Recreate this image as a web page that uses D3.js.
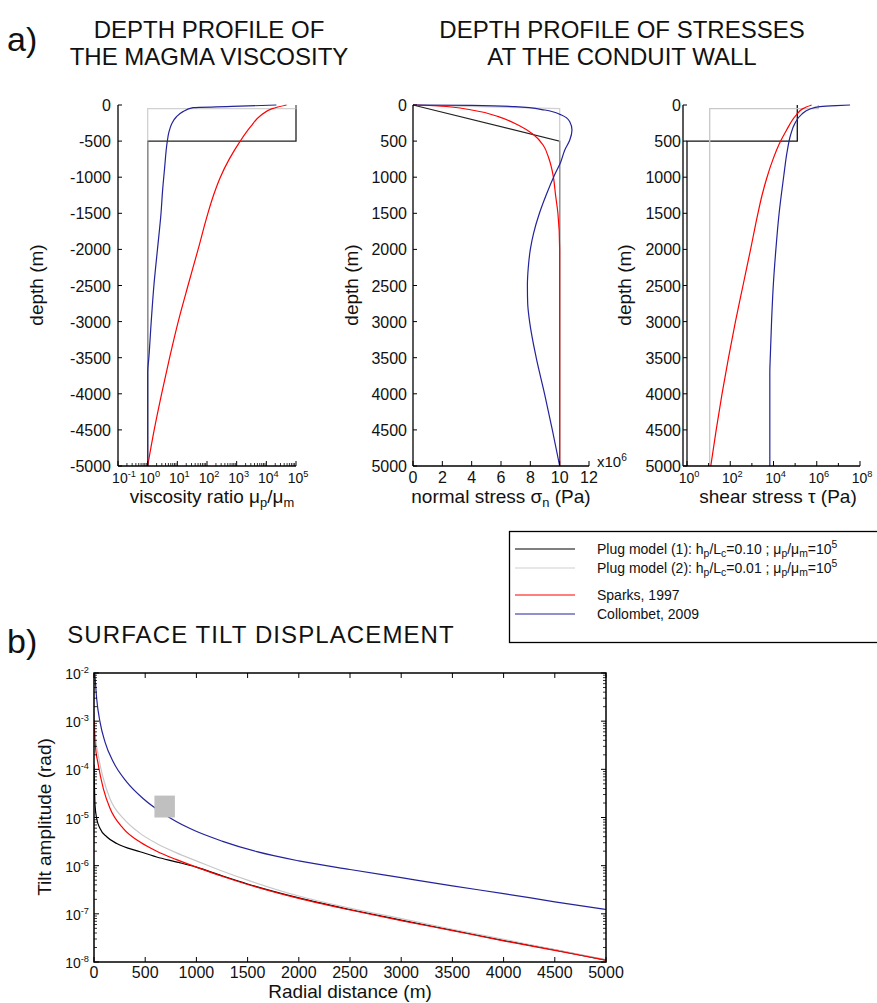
<!DOCTYPE html>
<html><head><meta charset="utf-8">
<script src="https://cdn.jsdelivr.net/npm/d3@7"></script>
<style>
body{margin:0;background:#fff;}
text{font-family:"Liberation Sans",Arial,sans-serif;fill:#111;}
</style></head><body>
<script>
// ---------------- DATA ----------------
// a) viscosity ratio vs depth (m, negative downward); values given as log10 exponents
const viscDepthSparks = [0,-50,-150,-300,-500,-750,-1000,-1250,-1500,-2000,-2500,-3000,-3500,-4000,-4500,-5000];
const viscSparksExp   = [4.68,4.20,3.80,3.47,3.12,2.75,2.45,2.22,2.03,1.70,1.36,1.03,0.74,0.47,0.22,0];
const viscDepthColl   = [0,-20,-37,-92,-162,-254,-369,-508,-877,-1200,-1500,-2000,-2500,-3000,-3500,-3700,-5000];
const viscCollExp     = [4.34,2.85,1.53,1.19,0.97,0.82,0.72,0.66,0.57,0.50,0.45,0.33,0.21,0.12,0.04,0,0];
const viscDepthPlug1  = [-5000,-500,-500,0];
const viscPlug1Exp    = [0,0,5,5];
const viscDepthPlug2  = [-5000,-50,-50,0];
const viscPlug2Exp    = [0,0,5,5];
const viscTicksY      = [0,-500,-1000,-1500,-2000,-2500,-3000,-3500,-4000,-4500,-5000];
const viscDecades     = [-1,0,1,2,3,4,5];

// normal stress (x10^6 Pa) vs depth (m)
const normDepthSparks = [0,14,69,162,277,406,554,738,970,1247,1500,2000,5000];
const normSparks      = [0,1.74,4.0,5.82,7.17,8.19,8.87,9.26,9.55,9.72,9.88,10,10];
const normDepthColl   = [0,4,23,69,139,231,346,485,623,785,970,1247,1500,1777,2000,2250,2500,2750,3000,3500,4000,4500,5000];
const normColl        = [0,4.0,6.95,8.99,10.12,10.69,10.84,10.69,10.35,10.08,9.65,9.08,8.62,8.22,8.00,7.86,7.80,7.82,7.95,8.40,8.97,9.50,10.0];
const normDepthPlug1  = [0,500,5000];
const normPlug1       = [0,10,10];
const normDepthPlug2  = [0,50,5000];
const normPlug2       = [0,10,10];
const normTicksX      = [0,2,4,6,8,10,12];
const depthTicks      = [0,500,1000,1500,2000,2500,3000,3500,4000,4500,5000];

// shear stress (Pa, log10 exponents) vs depth (m)
const shearDepthSparks = [0,50,150,350,500,750,1000,1250,1500,2000,2500,3000,3500,4000,4500,5000];
const shearSparksExp   = [5.76,5.36,5.02,4.60,4.33,3.98,3.70,3.47,3.28,2.94,2.59,2.24,1.92,1.62,1.35,1.10];
const shearDepthColl   = [0,8,23,55,130,254,415,647,970,1247,1500,2000,2500,3000,3500,3700,5000];
const shearCollExp     = [7.54,6.9,6.15,5.69,5.30,4.99,4.79,4.63,4.48,4.36,4.26,4.11,3.99,3.91,3.85,3.83,3.83];
const shearDepthPlug1  = [5000,500,500,0];
const shearPlug1Exp    = [0,0,5.1,5.1];
const shearDepthPlug2  = [5000,50,50,0];
const shearPlug2Exp    = [1.05,1.05,6.07,6.07];
const shearDecades     = [0,1,2,3,4,5,6,7,8];

// b) surface tilt (log10 rad) vs radial distance (m)
const tiltRBlack = [0,10,26,59,124,222,450,612,800,1000,1250,1500,2000,2500,3000,3500,4000,4500,5000];
const tiltBlack  = [-3.9,-4.74,-5.02,-5.23,-5.40,-5.54,-5.71,-5.82,-5.92,-6.03,-6.21,-6.38,-6.67,-6.91,-7.13,-7.34,-7.55,-7.75,-7.96];
const tiltRGray  = [0,10,42,91,156,287,450,612,800,1000,1250,1500,2000,2500,3000,3500,4000,4500,5000];
const tiltGray   = [-2.81,-3.22,-3.71,-4.19,-4.61,-5.02,-5.33,-5.54,-5.73,-5.90,-6.11,-6.30,-6.63,-6.88,-7.10,-7.32,-7.53,-7.74,-7.95];
const tiltRRed   = [0,10,42,91,156,287,450,612,800,1000,1250,1500,2000,2500,3000,3500,4000,4500,5000];
const tiltRed    = [-2.98,-3.43,-3.91,-4.40,-4.81,-5.23,-5.51,-5.70,-5.87,-6.03,-6.22,-6.39,-6.68,-6.92,-7.14,-7.35,-7.56,-7.76,-7.96];
const tiltRBlue  = [8,26,59,107,189,319,482,678,938,1264,1590,2000,2500,3000,3500,4000,4500,5000];
const tiltBlue   = [-2.0,-2.53,-3.02,-3.43,-3.85,-4.26,-4.61,-4.92,-5.23,-5.50,-5.71,-5.90,-6.08,-6.25,-6.42,-6.58,-6.75,-6.91];
const tiltBoxR   = [590,790];
const tiltBoxExp = [-5.0,-4.545];
const tiltTicksX = [0,500,1000,1500,2000,2500,3000,3500,4000,4500,5000];
const tiltDecades= [-8,-7,-6,-5,-4,-3,-2];

const legendItems = [
  {label:[["Plug model (1): h"],["p","sub"],["/L"],["c","sub"],["=0.10 ; μ"],["p","sub"],["/μ"],["m","sub"],["=10"],["5","sup"]], color:"#000"},
  {label:[["Plug model (2): h"],["p","sub"],["/L"],["c","sub"],["=0.01 ; μ"],["p","sub"],["/μ"],["m","sub"],["=10"],["5","sup"]], color:"#cfcfcf"},
  {label:[["Sparks, 1997"]], color:"#ff0000"},
  {label:[["Collombet, 2009"]], color:"#23239b"}
];

// ---------------- DRAW ----------------
const C = {black:"#000", gray:"#c8c8c8", red:"#ff0000", blue:"#23239b"};
const svg = d3.select("body").append("svg").attr("width",877).attr("height",1003);
const FS = 16, FT = 19, FTITLE = 24;
const TICKY = 483, TITLEY = 503;
const P10 = e => Math.pow(10,e);

function rich(g, x, y, parts, size, anchor, rotate, subScale){
  const t = g.append("text").attr("x",x).attr("y",y).attr("font-size",size)
    .attr("text-anchor",anchor||"start");
  if (rotate) t.attr("transform",`rotate(${rotate},${x},${y})`);
  let shift = 0;
  const sc = subScale||0.68;
  parts.forEach(p=>{
    const kind = p[1]||"n";
    let target = 0, fs = size;
    if (kind==="sup"){ target = -0.42*size; fs = size*sc; }
    if (kind==="sub"){ target = 0.22*size; fs = size*sc; }
    t.append("tspan").attr("dy", target-shift).attr("font-size",fs).text(p[0]);
    shift = target;
  });
  return t;
}
function powLabel(g, x, y, exp, anchor){
  return rich(g, x, y, [["10"],[String(exp),"sup"]], 14, anchor||"middle", null, 0.66);
}

let clipId = 0;
function clip(x0,y0,w,h){
  const id = "c"+(clipId++);
  svg.append("clipPath").attr("id",id).append("rect").attr("x",x0).attr("y",y0).attr("width",w).attr("height",h);
  return `url(#${id})`;
}
function drawXY(g, xs, ys, X, Y, color, curve, w, op){
  const pts = xs.map((v,i)=>[X(v),Y(ys[i])]);
  g.append("path").attr("d", d3.line().curve(curve||d3.curveLinear)(pts))
    .attr("fill","none").attr("stroke",color).attr("stroke-width",w||1.2)
    .attr("stroke-opacity",op==null?1:op);
}

// ===== Panel a1: viscosity =====
{
  const X = d3.scaleLog().domain([0.1,1e5]).range([118,296]);
  const Y = d3.scaleLinear().domain([0,-5000]).range([105,466]);
  const g = svg.append("g");
  const pg = g.append("g").attr("clip-path", clip(110,95,200,380));
  drawXY(pg, viscPlug1Exp.map(P10), viscDepthPlug1, X, Y, "#222", d3.curveLinear, 1.3);
  drawXY(pg, viscPlug2Exp.map(P10), viscDepthPlug2, X, Y, "#bdbdbd", d3.curveLinear, 1.3, 0.7);
  drawXY(pg, viscSparksExp.map(P10), viscDepthSparks, X, Y, C.red, d3.curveMonotoneY);
  drawXY(pg, viscCollExp.map(P10), viscDepthColl, X, Y, C.blue, d3.curveMonotoneY);
  g.append("line").attr("x1",118).attr("x2",118).attr("y1",105).attr("y2",466).attr("stroke","#000").attr("stroke-width",1.3);
  g.append("line").attr("x1",118).attr("x2",296).attr("y1",466).attr("y2",466).attr("stroke","#000").attr("stroke-width",1.3);
  viscTicksY.forEach(v=>{
    g.append("line").attr("x1",118).attr("x2",122).attr("y1",Y(v)).attr("y2",Y(v)).attr("stroke","#000");
    g.append("text").attr("x",111).attr("y",Y(v)+6).attr("font-size",FS).attr("text-anchor","end").text(v===0?"0":"-"+Math.abs(v));
  });
  viscDecades.forEach((d,i)=>{
    const v = P10(d);
    g.append("line").attr("x1",X(v)).attr("x2",X(v)).attr("y1",466).attr("y2",461).attr("stroke","#000");
    if (i<viscDecades.length-1) for(let k=2;k<10;k++){
      g.append("line").attr("x1",X(k*v)).attr("x2",X(k*v)).attr("y1",466).attr("y2",463).attr("stroke","#000").attr("stroke-width",0.8);
    }
    powLabel(g, X(v)+(i===0?6:2), TICKY, d);
  });
  rich(g, 212, TITLEY, [["viscosity ratio μ"],["p","sub"],["/μ"],["m","sub"]], FT, "middle");
  rich(g, 43, 285, [["depth (m)"]], FT, "middle", -90);
}

// ===== Panel a2: normal stress =====
{
  const X = d3.scaleLinear().domain([0,12]).range([413,589]);
  const Y = d3.scaleLinear().domain([0,5000]).range([105,466]);
  const g = svg.append("g");
  const pg = g.append("g").attr("clip-path", clip(405,95,200,380));
  drawXY(pg, normPlug1, normDepthPlug1, X, Y, "#222", d3.curveLinear, 1.2);
  drawXY(pg, normPlug2, normDepthPlug2, X, Y, "#bdbdbd", d3.curveLinear, 1.3, 0.7);
  drawXY(pg, normSparks, normDepthSparks, X, Y, C.red, d3.curveMonotoneY);
  drawXY(pg, normColl, normDepthColl, X, Y, C.blue, d3.curveMonotoneY);
  g.append("line").attr("x1",413).attr("x2",413).attr("y1",105).attr("y2",466).attr("stroke","#000").attr("stroke-width",1.3);
  g.append("line").attr("x1",413).attr("x2",589).attr("y1",466).attr("y2",466).attr("stroke","#000").attr("stroke-width",1.3);
  depthTicks.forEach(v=>{
    g.append("line").attr("x1",413).attr("x2",417).attr("y1",Y(v)).attr("y2",Y(v)).attr("stroke","#000");
    g.append("text").attr("x",407).attr("y",Y(v)+6).attr("font-size",FS).attr("text-anchor","end").text(v);
  });
  normTicksX.forEach(v=>{
    g.append("line").attr("x1",X(v)).attr("x2",X(v)).attr("y1",466).attr("y2",461).attr("stroke","#000");
    g.append("text").attr("x",X(v)).attr("y",TICKY).attr("font-size",FS).attr("text-anchor","middle").text(v);
  });
  rich(g, 597, 467, [["x10"],["6","sup"]], 15, "start");
  rich(g, 501, TITLEY, [["normal stress σ"],["n","sub"],[" (Pa)"]], FT, "middle");
  rich(g, 358, 285, [["depth (m)"]], FT, "middle", -90);
}

// ===== Panel a3: shear stress =====
{
  const X = d3.scaleLog().domain([1,1e8]).range([687,860]);
  const Y = d3.scaleLinear().domain([0,5000]).range([105,466]);
  const g = svg.append("g");
  const pg = g.append("g").attr("clip-path", clip(684,95,193,380));
  drawXY(pg, shearPlug1Exp.map(P10), shearDepthPlug1, X, Y, "#111", d3.curveLinear, 1.3);
  drawXY(pg, shearPlug2Exp.map(P10), shearDepthPlug2, X, Y, "#c8c8c8", d3.curveLinear, 1.3);
  drawXY(pg, shearSparksExp.map(P10), shearDepthSparks, X, Y, C.red, d3.curveMonotoneY);
  drawXY(pg, shearCollExp.map(P10), shearDepthColl, X, Y, C.blue, d3.curveMonotoneY);
  g.append("line").attr("x1",683).attr("x2",683).attr("y1",105).attr("y2",466).attr("stroke","#000").attr("stroke-width",1.3);
  g.append("line").attr("x1",683).attr("x2",860).attr("y1",466).attr("y2",466).attr("stroke","#000").attr("stroke-width",1.3);
  depthTicks.forEach(v=>{
    g.append("line").attr("x1",683).attr("x2",687).attr("y1",Y(v)).attr("y2",Y(v)).attr("stroke","#000");
    g.append("text").attr("x",681).attr("y",Y(v)+6).attr("font-size",FS).attr("text-anchor","end").text(v);
  });
  shearDecades.forEach(d=>{
    const v = P10(d);
    const major = d%2===0;
    g.append("line").attr("x1",X(v)).attr("x2",X(v)).attr("y1",466).attr("y2",major?461:463).attr("stroke","#000");
    if (major) powLabel(g, X(v)+2, TICKY, d);
  });
  rich(g, 778, TITLEY, [["shear stress τ (Pa)"]], FT, "middle");
  rich(g, 631, 285, [["depth (m)"]], FT, "middle", -90);
}

// ===== Titles =====
svg.append("text").attr("x",7).attr("y",51).attr("font-size",34).text("a)");
svg.append("text").attr("x",7).attr("y",653).attr("font-size",34).text("b)");
[["DEPTH PROFILE OF",209,38,0],["THE MAGMA VISCOSITY",209,65,0],
 ["DEPTH PROFILE OF STRESSES",622,38,0],["AT THE CONDUIT WALL",622,65,0],
 ["SURFACE TILT DISPLACEMENT",261,643,1.1]].forEach(t=>{
  svg.append("text").attr("x",t[1]).attr("y",t[2]).attr("font-size",FTITLE)
    .attr("letter-spacing",t[3]).attr("text-anchor","middle").text(t[0]);
});

// ===== Legend =====
{
  const g = svg.append("g");
  g.append("rect").attr("x",509.5).attr("y",531.5).attr("width",390).attr("height",111).attr("fill","#fff").attr("stroke","#000").attr("stroke-width",1.3);
  const ys = [549,568,595,614];
  legendItems.forEach((it,i)=>{
    g.append("line").attr("x1",515).attr("x2",575).attr("y1",ys[i]).attr("y2",ys[i]).attr("stroke",it.color).attr("stroke-width",1.1);
    rich(g, 597, ys[i]+5, it.label, 14, "start", null, 0.74);
  });
}

// ===== Panel b: tilt =====
{
  const X = d3.scaleLinear().domain([0,5000]).range([94,606]);
  const Y = d3.scaleLog().domain([1e-8,1e-2]).range([962,673]);
  const g = svg.append("g");
  const pg = g.append("g").attr("clip-path", clip(94,673,512,289));
  drawXY(pg, tiltRBlack, tiltBlack.map(P10), X, Y, C.black, d3.curveMonotoneX);
  drawXY(pg, tiltRGray, tiltGray.map(P10), X, Y, C.gray, d3.curveMonotoneX);
  drawXY(pg, tiltRRed, tiltRed.map(P10), X, Y, C.red, d3.curveMonotoneX);
  drawXY(pg, tiltRBlue, tiltBlue.map(P10), X, Y, C.blue, d3.curveMonotoneX);
  pg.append("rect").attr("x",X(tiltBoxR[0])).attr("y",Y(P10(tiltBoxExp[1])))
    .attr("width",X(tiltBoxR[1])-X(tiltBoxR[0])).attr("height",Y(P10(tiltBoxExp[0]))-Y(P10(tiltBoxExp[1])))
    .attr("fill","#c0c0c0");
  g.append("rect").attr("x",94).attr("y",673).attr("width",512).attr("height",289).attr("fill","none").attr("stroke","#000").attr("stroke-width",1.5);
  tiltTicksX.forEach(v=>{
    g.append("line").attr("x1",X(v)).attr("x2",X(v)).attr("y1",962).attr("y2",957).attr("stroke","#000");
    g.append("line").attr("x1",X(v)).attr("x2",X(v)).attr("y1",673).attr("y2",678).attr("stroke","#000");
    g.append("text").attr("x",X(v)).attr("y",978).attr("font-size",FS).attr("text-anchor","middle").text(v);
  });
  tiltDecades.forEach((d,i)=>{
    const v = P10(d);
    [[94,99],[606,601]].forEach(s=>{
      g.append("line").attr("x1",s[0]).attr("x2",s[1]).attr("y1",Y(v)).attr("y2",Y(v)).attr("stroke","#000");
    });
    if (i<tiltDecades.length-1) for(let k=2;k<10;k++){
      [[94,97],[606,603]].forEach(s=>{
        g.append("line").attr("x1",s[0]).attr("x2",s[1]).attr("y1",Y(k*v)).attr("y2",Y(k*v)).attr("stroke","#000").attr("stroke-width",0.8);
      });
    }
    powLabel(g, 89, Y(v)+6, d, "end");
  });
  rich(g, 350, 998, [["Radial distance (m)"]], FT, "middle");
  rich(g, 51, 817, [["Tilt amplitude (rad)"]], FT, "middle", -90);
}
</script></body></html>
